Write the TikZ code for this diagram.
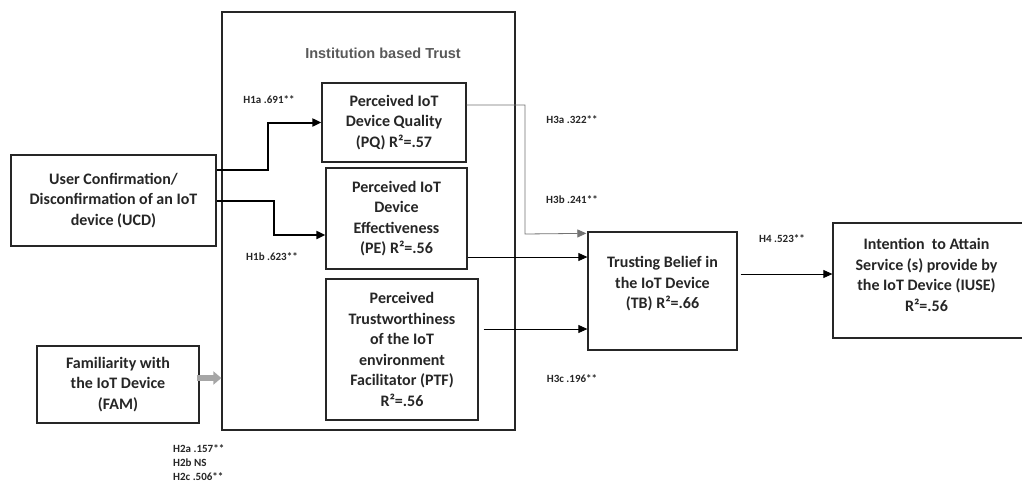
\documentclass[tikz,border=0pt]{standalone}
\usepackage{fontspec}
\setmainfont{Carlito}
\newfontfamily\instfont{Liberation Sans}
\usetikzlibrary{arrows.meta,calc}
\begin{document}
\begin{tikzpicture}[x=1pt,y=-1pt,
  box/.style={draw=black!85,line width=1.3pt,align=center,inner sep=0pt,
    font=\fontsize{16}{20.5}\selectfont\bfseries,text=black!85},
  boxtext/.style={align=center,inner sep=0pt,
    font=\fontsize{16}{20.5}\selectfont\bfseries,text=black!85},
  lbl/.style={font=\fontsize{11}{14}\selectfont\bfseries,text=black!85,inner sep=0pt},
  tip/.style={-{Triangle[length=9pt,width=8pt]}},
  thick arrow/.style={tip,line width=2pt,draw=black},
  thin arrow/.style={tip,line width=0.8pt,draw=black},
]
\useasboundingbox (0,0) rectangle (1022,482);
\fill[white] (0,0) rectangle (1022,482);

% boxes
\node[box,minimum width=205pt,minimum height=91pt] (ucd) at (113.5,200.5)
  {User Confirmation/\\Disconfirmation of an IoT\\device (UCD)};
\node[box,minimum width=162pt,minimum height=77pt] (fam) at (118,384.5)
  {Familiarity with\\the IoT Device\\(FAM)};
\node[box,minimum width=293pt,minimum height=418pt] (ibt) at (368.5,221) {};
\node[font=\instfont\bfseries\fontsize{14.5}{16}\selectfont,text=black!65,inner sep=0pt]
  (ibtl) at (383,53) {Institution based Trust};
\node[box,minimum width=144pt,minimum height=79pt] (pq) at (394,122.5)
  {Perceived IoT\\Device Quality\\(PQ) R²=.57};
\node[box,minimum width=141pt,minimum height=101pt] (pe) at (396.5,218.5)
  {Perceived IoT\\Device\\Effectiveness\\(PE) R²=.56};
\node[box,minimum width=152pt,minimum height=141pt] (ptf) at (402,349.5)
  {Perceived\\Trustworthiness\\of the IoT\\environment\\Facilitator (PTF)\\R²=.56};
\node[box,minimum width=149pt,minimum height=118pt] (tb) at (662.5,291) {};
\node[boxtext] (tbt) at (662.5,284) {Trusting Belief in\\the IoT Device\\(TB) R²=.66};
\node[box,minimum width=190pt,minimum height=115pt] (iuse) at (928,280.5) {};
\node[boxtext] (iuset) at (926.5,275)
  {Intention\ \ to Attain\\Service (s) provide by\\the IoT Device (IUSE)\\R²=.56};

% connectors
\draw[thick arrow] (ucd.east |- 0,170) -| (268,122.5) -- (pq.west);
\draw[thick arrow] (ucd.east |- 0,201) -| (274,235) -- (pe.west |- 0,235);
\draw[tip,line width=0.8pt,draw=black!55] (pq.east |- 0,105) -| (525,234)
  -- ($(tb.north west)+(-1,2)$);
\draw[thin arrow] (pe.east |- 0,257) -- (tb.west |- 0,257);
\draw[thin arrow] ($(ptf.east |- 0,329)+(5,0)$) -- (tb.west |- 0,329);
\draw[thin arrow] ($(tb.east |- 0,274)+(3,0)$) -- (iuse.west |- 0,274);
\draw[-{Triangle[length=8pt,width=13pt]},line width=6.5pt,draw=black!35]
  ($(fam.east |- 0,378)+(-3,0)$) -- (ibt.west |- 0,378);

% labels
\node[lbl] (h1a) at (269,100) {H1a .691**};
\node[lbl] (h1b) at (272,257) {H1b .623**};
\node[lbl,align=left,anchor=west] (h2) at (173,463) {H2a .157**\\H2b NS\\H2c .506**};
\node[lbl] (h3a) at (572,120) {H3a .322**};
\node[lbl] (h3b) at (572,200) {H3b .241**};
\node[lbl] (h3c) at (572,379) {H3c .196**};
\node[lbl] (h4) at (782,239) {H4 .523**};
\end{tikzpicture}
\end{document}
